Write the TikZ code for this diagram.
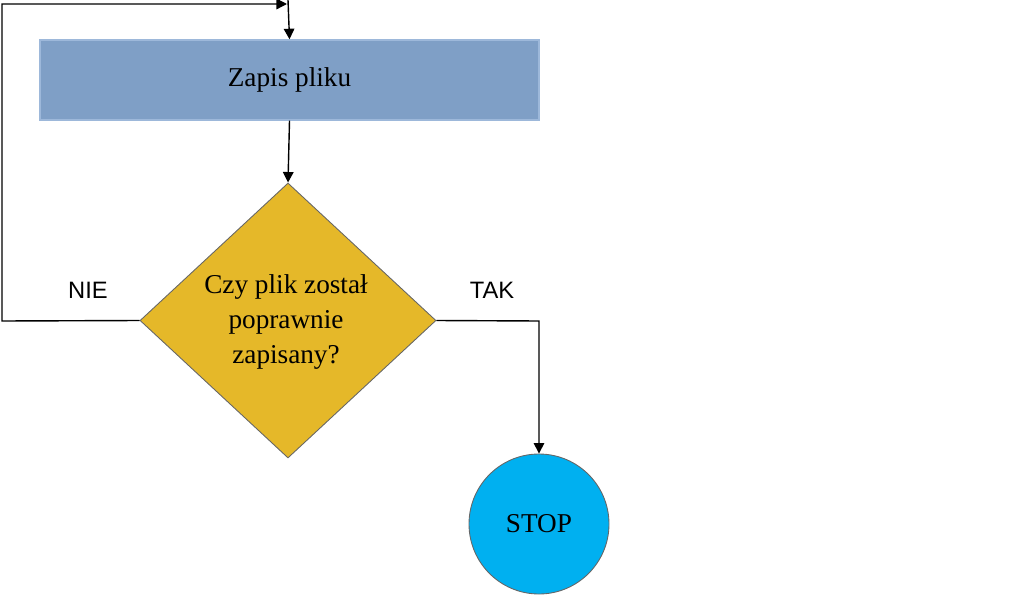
\documentclass[tikz,border=0pt]{standalone}
\usepackage{fontspec}
\setmainfont{Liberation Serif}
\newfontfamily\lblfont{Liberation Sans}
\usetikzlibrary{shapes.geometric,arrows.meta}
\definecolor{boxblue}{HTML}{7F9FC6}
\definecolor{boxedge}{HTML}{9DB8DA}
\definecolor{dgold}{HTML}{E5B829}
\definecolor{stopblue}{HTML}{00B0F0}
\tikzset{
  conn/.style={draw=black, line width=0.8pt, -{Triangle[length=6pt,width=6pt]}},
  plain/.style={draw=black, line width=0.8pt},
  lbl/.style={font=\lblfont\fontsize{13.5}{16}\selectfont},
  txt/.style={font=\fontsize{15.5}{20}\selectfont, align=center}
}
\begin{document}
\begin{tikzpicture}[x=0.02cm,y=-0.02cm]
\useasboundingbox (0,0) rectangle (1024,598);
\node[fill=boxblue, draw=boxedge, line width=0.8pt, minimum width=499*0.02cm, minimum height=80*0.02cm, txt] (zap) at (289.5,80) {Zapis pliku};
\node[diamond, fill=dgold, draw=black!60, line width=0.5pt, minimum width=296*0.02cm, minimum height=275*0.02cm, inner sep=0pt, txt] (dec) at (288,320.5) {};
\node[txt] at (286,322) {Czy plik został\\poprawnie\\zapisany?};
\node[circle, fill=stopblue, draw=black!60, line width=0.5pt, minimum size=140*0.02cm, inner sep=0pt, txt] (stop) at (539,524) {STOP};
\coordinate (topin) at (288,0);
\coordinate (lp1) at (2,321);
\coordinate (lp2) at (2,4);
\coordinate (lp3) at (287,4);
\coordinate (tk) at (539,321);
\draw[conn] (topin) -- (zap.north);
\draw[conn] (zap.south) -- (dec.north);
\draw[conn] (dec.west) -- (lp1) -- (lp2) -- (lp3);
\draw[conn] (dec.east) -- (tk) -- (stop.north);
\node[lbl] at (88,290) {NIE};
\node[lbl] at (492,290) {TAK};
\end{tikzpicture}
\end{document}
